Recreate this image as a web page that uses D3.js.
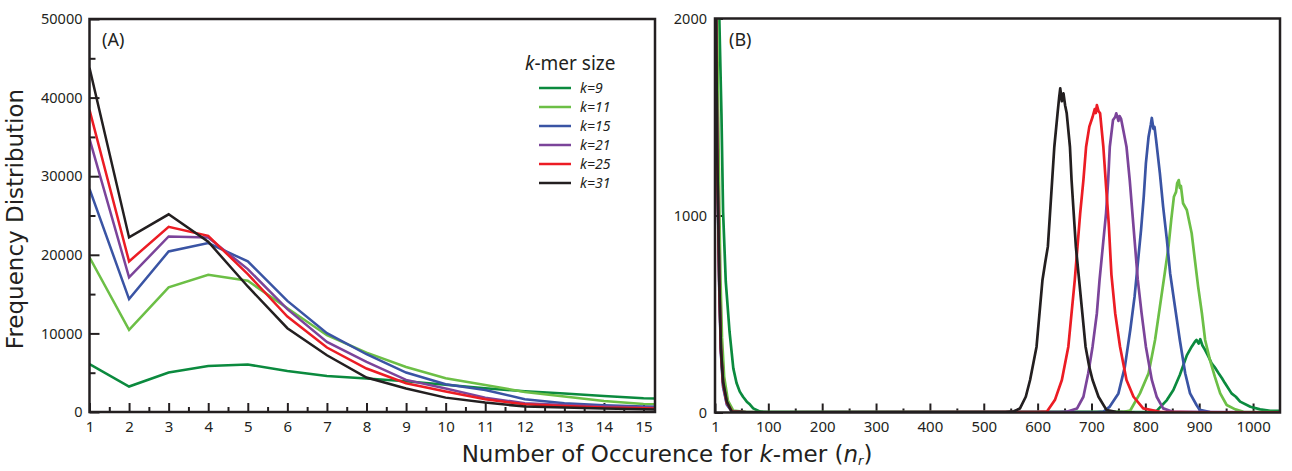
<!DOCTYPE html>
<html>
<head>
    <title></title>
    <style>
        body { margin: 0; background: #fff; }
        text { font-family: "Noto Sans", sans-serif; fill: #231f20; }
    </style>
</head>
<body>
<div id="container"></div>

<script src="https://d3js.org/d3.v7.min.js" type="text/javascript"></script>
<script type="text/javascript">
    let w = 1292;
    let h = 471;

    // k-mer sizes and their colours
    const kLabels = ['k=9', 'k=11', 'k=15', 'k=21', 'k=25', 'k=31'];
    const colors = ['#0b8a3e', '#6cbf46', '#3a54a4', '#7b449a', '#ec1c24', '#231f20'];

    // panel A: frequency for n_r = 1..16 (16 only shows as the stub past the last tick)
    const nA = [1, 2, 3, 4, 5, 6, 7, 8, 9, 10, 11, 12, 13, 14, 15, 16];
    const a9  = [6100, 3240, 5020, 5860, 6040, 5220, 4590, 4250, 3900, 3480, 3020, 2640, 2340, 2040, 1750, 1600];
    const a11 = [19670, 10450, 15850, 17450, 16690, 13200, 9770, 7560, 5730, 4290, 3440, 2550, 1960, 1400, 1020, 850];
    const a15 = [28370, 14360, 20430, 21490, 19160, 14140, 10030, 7350, 5020, 3530, 2800, 1620, 1110, 850, 690, 600];
    const a21 = [34740, 17120, 22340, 22200, 18180, 13080, 8920, 6370, 4080, 2980, 1830, 1110, 890, 690, 560, 480];
    const a25 = [38430, 19160, 23570, 22420, 17540, 12150, 8200, 5530, 3660, 2600, 1620, 980, 770, 560, 470, 400];
    const a31 = [43780, 22210, 25150, 21660, 15970, 10660, 7220, 4380, 2980, 1830, 1200, 690, 560, 430, 340, 300];
    const tickA = [1, 2, 3, 4, 5, 6, 7, 8, 9, 10, 11, 12, 13, 14, 15];
    const yTickA = [0, 10000, 20000, 30000, 40000, 50000];

    // panel B: [n_r, frequency] points
    const b9 = [[1,3500],[9,2000],[13,1510],[16,1019],[21,664],[28,410],[35,224],[41,150],[47,106],[53,80],[60,55],[66,40],[72,21],[85,4],[100,2],[810,3],[821,8],[840,63],[852,114],[864,190],[877,290],[886,334],[892,359],[895,368],[899,350],[902,372],[906,340],[911,317],[917,285],[923,250],[930,225],[936,199],[942,175],[948,148],[960,97],[968,80],[976,55],[995,29],[1013,16],[1032,9],[1050,8]];
    const b11 = [[1,3000],[5,2000],[7,1500],[9,1050],[11,700],[14,380],[18,180],[25,60],[35,10],[60,2],[760,3],[772,10],[790,97],[806,199],[818,368],[827,537],[836,707],[843,842],[848,977],[853,1095],[857,1120],[859,1163],[862,1180],[864,1140],[866,1150],[870,1062],[877,1028],[886,910],[892,774],[898,639],[905,504],[911,368],[920,266],[929,182],[939,97],[951,38],[967,16],[982,3],[1050,1]];
    const b15 = [[1,2600],[3,1990],[5,1300],[7,960],[9,620],[12,300],[16,130],[23,40],[33,3],[60,1],[710,2],[722,4],[734,30],[750,97],[762,233],[772,419],[780,588],[786,757],[792,926],[797,1095],[801,1265],[806,1400],[810,1460],[812,1495],[815,1440],[817,1450],[820,1383],[827,1214],[833,1045],[840,876],[846,707],[855,537],[864,368],[874,199],[883,97],[895,38],[901,13],[920,2],[1050,1]];
    const b21 = [[1,2600],[3,2000],[5,1320],[7,980],[9,640],[12,310],[16,140],[23,45],[33,3],[60,1],[640,2],[654,4],[673,20],[685,80],[694,199],[702,334],[710,504],[715,673],[721,842],[727,1011],[731,1180],[734,1349],[740,1485],[744,1500],[746,1519],[750,1480],[752,1505],[755,1490],[759,1434],[765,1349],[771,1180],[776,1011],[781,842],[786,673],[793,504],[801,334],[812,165],[821,80],[833,21],[852,3],[1050,1]];
    const b25 = [[1,2600],[3,2010],[5,1330],[7,990],[9,650],[12,320],[16,150],[23,50],[33,4],[60,1],[600,2],[617,4],[632,63],[645,165],[657,334],[663,504],[669,673],[674,842],[679,1011],[685,1180],[690,1349],[696,1451],[702,1500],[706,1540],[708,1520],[710,1560],[713,1530],[716,1519],[722,1349],[727,1150],[732,960],[737,700],[744,504],[753,334],[765,165],[778,80],[796,21],[827,3],[900,1],[1050,1]];
    const b31 = [[1,2600],[3,2018],[5,1341],[7,1003],[9,664],[12,326],[16,156],[23,55],[32,4],[60,2],[540,2],[556,6],[567,20],[578,80],[586,165],[598,334],[609,673],[614,760],[619,842],[623,1011],[627,1180],[631,1349],[637,1519],[640,1600],[642,1645],[645,1580],[648,1620],[651,1560],[654,1519],[660,1349],[663,1180],[667,1011],[671,842],[677,673],[683,504],[689,334],[696,230],[702,165],[713,80],[728,12],[745,3],[780,0]];
    const tickB = [1, 100, 200, 300, 400, 500, 600, 700, 800, 900, 1000];
    const yTickB = [0, 1000, 2000];

    const seriesA = [a9, a11, a15, a21, a25, a31];
    const seriesB = [b9, b11, b15, b21, b25, b31];

    const svg = d3.select('#container')
        .append('svg')
        .attr('width', w)
        .attr('height', h);

    const frameA = {left: 89.5, right: 655, top: 19, bottom: 412};
    const frameB = {left: 715, right: 1280, top: 18.5, bottom: 412.5};

    let xA = d3.scaleLinear().domain([1, 15.29]).range([frameA.left, frameA.right]);
    let yA = d3.scaleLinear().domain([0, 50000]).range([frameA.bottom, frameA.top]);
    let xB = d3.scaleLinear().domain([1, 1050]).range([frameB.left, frameB.right]);
    let yB = d3.scaleLinear().domain([0, 2000]).range([frameB.bottom, frameB.top]);

    let defs = svg.append('defs');
    [['clipA', frameA], ['clipB', frameB]].forEach(([id, f]) => {
        defs.append('clipPath').attr('id', id)
            .append('rect')
            .attr('x', f.left).attr('y', f.top)
            .attr('width', f.right - f.left).attr('height', f.bottom - f.top);
    });

    function styleAxis(g, fontSize) {
        g.select('.domain').remove();
        g.attr('color', '#231f20').attr('font-family', null).attr('font-size', null);
        g.selectAll('line').attr('stroke-width', 2);
        g.selectAll('text').style('font-size', fontSize + 'px');
    }

    // ---- panel A ----
    let halves = d3.range(1.5, 15.3, 1);
    svg.append('g')
        .attr('transform', `translate(0, ${frameA.bottom})`)
        .call(d3.axisBottom(xA).tickValues(tickA).tickSize(-9).tickPadding(9).tickFormat(d3.format('d')))
        .call(g => styleAxis(g, 15));
    svg.append('g')
        .attr('transform', `translate(0, ${frameA.bottom})`)
        .call(d3.axisBottom(xA).tickValues(halves).tickSize(-5).tickFormat(''))
        .call(g => styleAxis(g, 15));
    svg.append('g')
        .attr('transform', `translate(${frameA.left}, 0)`)
        .call(d3.axisLeft(yA).tickValues(yTickA).tickSize(-10).tickPadding(7).tickFormat(d3.format('d')))
        .call(g => styleAxis(g, 14.5));
    svg.append('g')
        .attr('transform', `translate(${frameA.left}, 0)`)
        .call(d3.axisLeft(yA).tickValues(d3.range(5000, 50000, 10000)).tickSize(-6).tickFormat(''))
        .call(g => styleAxis(g, 14.5));

    let lineA = d3.line().x((d, i) => xA(nA[i])).y(d => yA(d));
    const plotA = svg.append('g').attr('clip-path', 'url(#clipA)');
    seriesA.forEach((s, i) => {
        plotA.append('path')
            .attr('d', lineA(s))
            .attr('fill', 'none')
            .attr('stroke', colors[i])
            .attr('stroke-width', 2.5)
            .attr('stroke-linejoin', 'miter');
    });

    svg.append('rect')
        .attr('x', frameA.left).attr('y', frameA.top)
        .attr('width', frameA.right - frameA.left).attr('height', frameA.bottom - frameA.top)
        .attr('fill', 'none').attr('stroke', '#231f20').attr('stroke-width', 2.5);

    svg.append('text').attr('x', 102).attr('y', 46).style('font-size', '18px').text('(A)');

    // legend
    let legendTitle = svg.append('text').attr('x', 525).attr('y', 70).style('font-size', '19px');
    legendTitle.append('tspan').style('font-style', 'italic').text('k');
    legendTitle.append('tspan').text('-mer size');
    kLabels.forEach((d, i) => {
        let ly = 88 + i * 19;
        svg.append('line')
            .attr('x1', 539).attr('x2', 571).attr('y1', ly).attr('y2', ly)
            .attr('stroke', colors[i]).attr('stroke-width', 2.5);
        svg.append('text')
            .attr('x', 580).attr('y', ly + 5)
            .style('font-size', '14px').style('font-style', 'italic')
            .text(d);
    });

    // ---- panel B ----
    svg.append('g')
        .attr('transform', `translate(0, ${frameB.bottom})`)
        .call(d3.axisBottom(xB).tickValues(tickB).tickSize(-9).tickPadding(9).tickFormat(d3.format('d')))
        .call(g => styleAxis(g, 15));
    svg.append('g')
        .attr('transform', `translate(0, ${frameB.bottom})`)
        .call(d3.axisBottom(xB).tickValues(d3.range(50, 1000, 100)).tickSize(-4).tickFormat(''))
        .call(g => styleAxis(g, 15));
    svg.append('g')
        .attr('transform', `translate(${frameB.left}, 0)`)
        .call(d3.axisLeft(yB).tickValues(yTickB).tickSize(-8).tickPadding(8).tickFormat(d3.format('d')))
        .call(g => styleAxis(g, 14.5));

    let lineB = d3.line().x(d => xB(d[0])).y(d => yB(d[1]));
    const plotB = svg.append('g').attr('clip-path', 'url(#clipB)');
    seriesB.forEach((s, i) => {
        plotB.append('path')
            .attr('d', lineB(s))
            .attr('fill', 'none')
            .attr('stroke', colors[i])
            .attr('stroke-width', 2.7)
            .attr('stroke-linejoin', 'round');
    });

    svg.append('rect')
        .attr('x', frameB.left).attr('y', frameB.top)
        .attr('width', frameB.right - frameB.left).attr('height', frameB.bottom - frameB.top)
        .attr('fill', 'none').attr('stroke', '#231f20').attr('stroke-width', 2.5);

    svg.append('text').attr('x', 729).attr('y', 46).style('font-size', '18px').text('(B)');

    // ---- axis titles ----
    svg.append('text')
        .attr('transform', 'translate(23, 219) rotate(-90)')
        .attr('text-anchor', 'middle')
        .style('font-family', '"DejaVu Sans", sans-serif')
        .style('font-size', '23px')
        .text('Frequency Distribution');

    let xt = svg.append('text')
        .attr('x', 667).attr('y', 462)
        .attr('text-anchor', 'middle')
        .style('font-family', '"DejaVu Sans", sans-serif')
        .style('font-size', '23px');
    xt.append('tspan').text('Number of Occurence for ');
    xt.append('tspan').style('font-style', 'italic').text('k');
    xt.append('tspan').text('-mer (');
    xt.append('tspan').style('font-style', 'italic').text('n');
    xt.append('tspan').style('font-style', 'italic').style('font-size', '13px').attr('dy', 3).text('r');
    xt.append('tspan').attr('dy', -3).text(')');
</script>

</body>
</html>
